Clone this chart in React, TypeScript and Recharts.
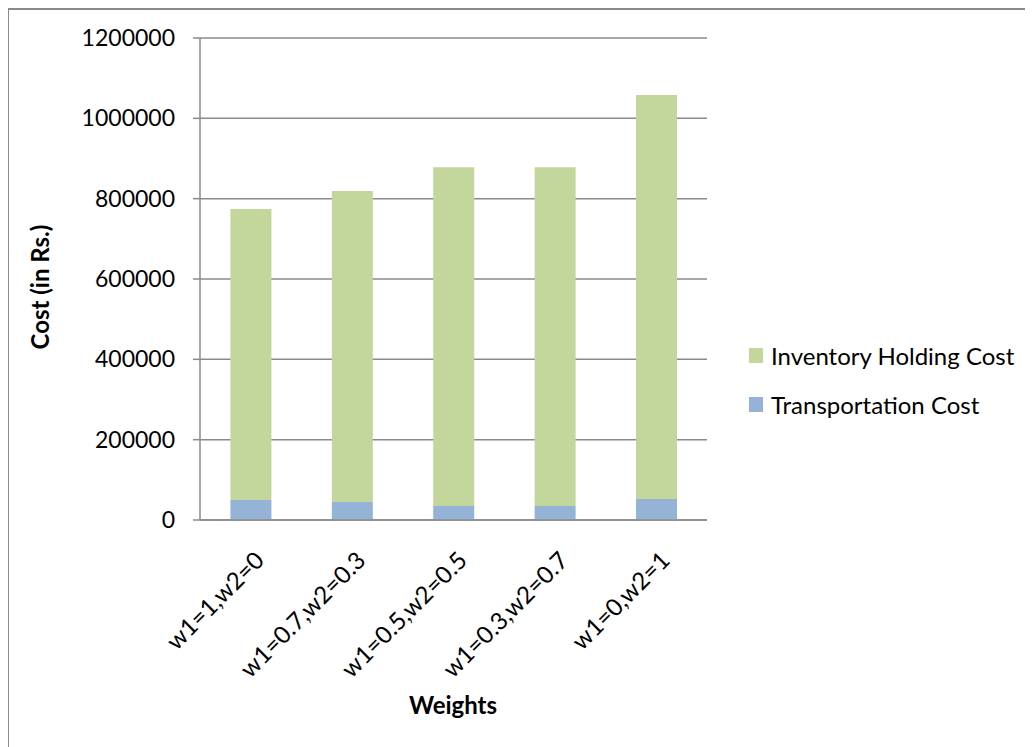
import { BarChart, Bar, XAxis, YAxis, CartesianGrid } from 'recharts';

// Cost split per weight combination (Rs.)
const weights = ['w1=1,w2=0', 'w1=0.7,w2=0.3', 'w1=0.5,w2=0.5', 'w1=0.3,w2=0.7', 'w1=0,w2=1'];
const transportationCost = [50000, 45000, 35000, 35000, 52000];
const inventoryHoldingCost = [724000, 774000, 843000, 843000, 1006000];
const costTicks = [0, 200000, 400000, 600000, 800000, 1000000, 1200000];

const GREEN = '#C3D69B';
const BLUE = '#95B3D7';
const GRID = '#8a8a8a';
const FONT = 'Lato, "Open Sans", sans-serif';

const data = weights.map((w, i) => ({
  weight: w,
  transport: transportationCost[i],
  inventory: inventoryHoldingCost[i],
}));

const legendItems = [
  { label: 'Inventory Holding Cost', color: GREEN },
  { label: 'Transportation Cost', color: BLUE },
];

// slanted category labels, anchored at their right end under each bar
function WeightTick({ x, y, payload }: any) {
  return (
    <g transform={`translate(${x + 15},${y + 42})`}>
      <text transform="rotate(-45)" textAnchor="end" fontSize={24} fontFamily={FONT} fill="#000">
        {payload.value}
      </text>
    </g>
  );
}

export default function App() {
  return (
    <div style={{ position: 'relative', width: 1025, height: 739, fontFamily: FONT }}>
      {/* frame: top and left edges */}
      <div style={{ position: 'absolute', left: -1, top: 0, width: 1026, height: 2, background: GRID }} />
      <div style={{ position: 'absolute', left: -1, top: 0, width: 2, height: 739, background: GRID }} />

      <div style={{ position: 'absolute', left: 0, top: 0 }}>
        <BarChart
          width={1025}
          height={739}
          data={data}
          barCategoryGap="30%"
          margin={{ top: 30, right: 326, bottom: 127, left: 0 }}
        >
          <CartesianGrid vertical={false} stroke={GRID} strokeWidth={1.5} />
          <XAxis
            dataKey="weight"
            height={100}
            interval={0}
            tickSize={0}
            tickMargin={0}
            tickLine={false}
            axisLine={{ stroke: GRID, strokeWidth: 1.5 }}
            tick={<WeightTick />}
          />
          <YAxis
            width={192}
            domain={[0, 1200000]}
            ticks={costTicks}
            interval={0}
            tickSize={7}
            tickMargin={18}
            tickLine={{ stroke: GRID, strokeWidth: 1.5 }}
            axisLine={{ stroke: GRID, strokeWidth: 1.5 }}
            tick={{ fontSize: 23, fontFamily: FONT, fill: '#000' }}
          />
          <Bar dataKey="transport" stackId="cost" fill={BLUE} isAnimationActive={false} />
          <Bar dataKey="inventory" stackId="cost" fill={GREEN} isAnimationActive={false} />
        </BarChart>
      </div>

      {/* axis titles */}
      <div
        style={{
          position: 'absolute',
          left: 40 - 8 - 150,
          top: 287 - 8 - 15,
          width: 300,
          height: 30,
          lineHeight: '30px',
          textAlign: 'center',
          transform: 'rotate(-90deg)',
          fontSize: 24,
          fontWeight: 700,
          color: '#000',
        }}
      >
        Cost (in Rs.)
      </div>
      <div
        style={{
          position: 'absolute',
          left: 453 - 8 - 100,
          top: 705 - 8 - 15,
          width: 200,
          height: 30,
          lineHeight: '30px',
          textAlign: 'center',
          fontSize: 24,
          fontWeight: 700,
          color: '#000',
        }}
      >
        Weights
      </div>

      {/* legend */}
      <div style={{ position: 'absolute', left: 749 - 8, top: 331 - 8 }}>
        {legendItems.map((it) => (
          <div key={it.label} style={{ display: 'flex', alignItems: 'center', height: 49 }}>
            <span style={{ width: 14, height: 15, background: it.color, marginRight: 8 }} />
            <span style={{ fontSize: 24, color: '#000', lineHeight: '30px' }}>{it.label}</span>
          </div>
        ))}
      </div>
    </div>
  );
}
